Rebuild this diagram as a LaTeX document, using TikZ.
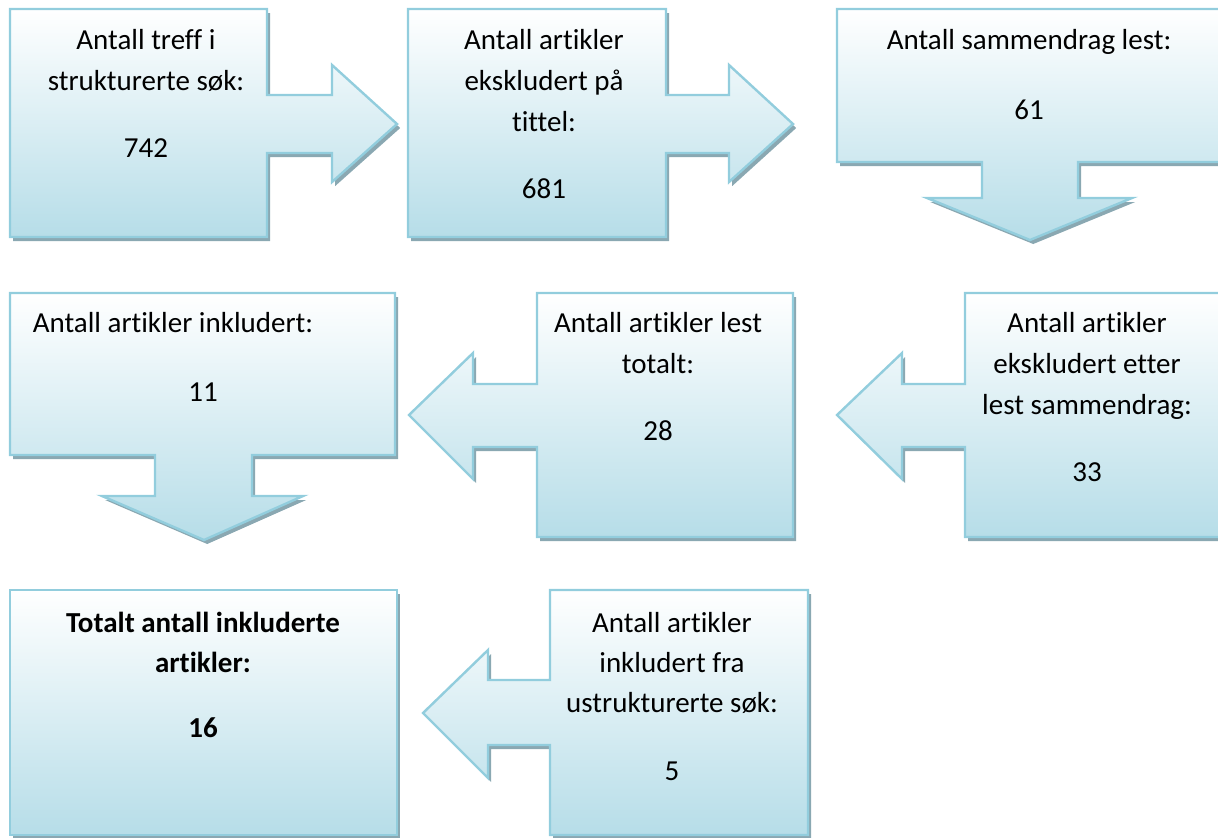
\documentclass[tikz,border=0pt]{standalone}
\usepackage{fontspec}
\setmainfont{Carlito}[Ligatures={NoCommon}]
\usetikzlibrary{shadows}
\definecolor{boxline}{RGB}{146,205,221}
\definecolor{boxfill}{RGB}{182,221,232}
\definecolor{boxshadow}{RGB}{138,168,178}

\begin{document}
\begin{tikzpicture}[x=0.5pt,y=-0.5pt,
        callout/.style={draw=boxline,line width=1.2pt,top color=white,bottom color=boxfill,
          drop shadow={shadow xshift=1.6pt,shadow yshift=-2pt,fill=boxshadow,opacity=1}},
        txt/.style={align=center,anchor=north,inner sep=0pt,font=\fontsize{14.5}{20.5}\selectfont}]
   \useasboundingbox (0,0) rectangle (1218,837);

   \draw[callout] (10,9) -- (267,9) -- (267,95) -- (332,95) -- (332,65) -- (397,124) -- (332,182)
      -- (332,153) -- (267,153) -- (267,237) -- (10,237) -- cycle;
   \draw[callout] (408,9) -- (666,9) -- (666,95) -- (729,95) -- (729,65) -- (793,124) -- (729,182)
      -- (729,153) -- (666,153) -- (666,237) -- (408,237) -- cycle;
   \draw[callout] (837,9) -- (1223,9) -- (1223,162) -- (1078,162) -- (1078,198) -- (1132,198) -- (1030,240)
      -- (927,198) -- (982,198) -- (982,162) -- (837,162) -- cycle;

   \draw[callout] (10,293) -- (395,293) -- (395,455) -- (252,455) -- (252,496) -- (303,496) -- (204,540)
      -- (102,496) -- (155,496) -- (155,455) -- (10,455) -- cycle;
   \draw[callout] (537,293) -- (793,293) -- (793,537) -- (537,537) -- (537,447) -- (473,447) -- (473,479)
      -- (409,415) -- (473,353) -- (473,384) -- (537,384) -- cycle;
   \draw[callout] (965,293) -- (1223,293) -- (1223,537) -- (965,537) -- (965,447) -- (902,447) -- (902,479)
      -- (837,415) -- (902,353) -- (902,384) -- (965,384) -- cycle;

   \draw[callout] (10,590) rectangle (397,835);
   \draw[callout] (550,590) -- (808,590) -- (808,835) -- (550,835) -- (550,745) -- (488,745) -- (488,778)
      -- (423,713) -- (488,650) -- (488,680) -- (550,680) -- cycle;

   \node[txt] (A) at (146,29) {Antall treff i\\strukturerte søk:\\[13pt]742};
   \node[txt] (B) at (544,29) {Antall artikler\\ekskludert på\\tittel:\\[13pt]681};
   \node[txt] (C) at (1029,29) {Antall sammendrag lest:\\[14.5pt]61};
   \node[txt] (D) at (173,312) {Antall artikler inkludert:\\[14pt]\hspace*{30pt}11};
   \node[txt] (E) at (658,312) {Antall artikler lest\\totalt:\\[13pt]28};
   \node[txt] (F) at (1087,312) {Antall artikler\\ekskludert etter\\lest sammendrag:\\[13pt]33};
   \node[txt,font=\fontsize{14.5}{20}\selectfont\bfseries] (G) at (203,612) {Totalt antall inkluderte\\artikler:\\[12.5pt]16};
   \node[txt,font=\fontsize{14.5}{20}\selectfont] (H) at (672,612) {Antall artikler\\inkludert fra\\ustrukturerte søk:\\[14pt]5};
\end{tikzpicture}
\end{document}
